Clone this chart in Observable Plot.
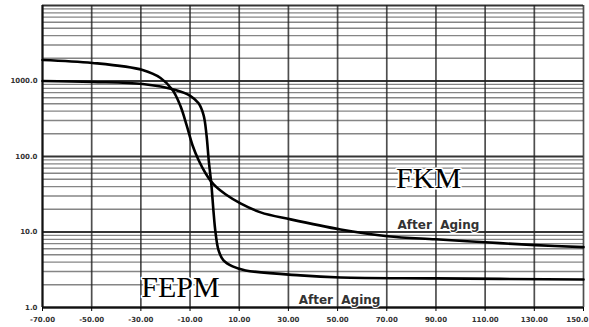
<!DOCTYPE html>
<html><head><meta charset="utf-8">
<script src="https://cdn.jsdelivr.net/npm/d3@7"></script>
<script src="https://cdn.jsdelivr.net/npm/@observablehq/plot@0.6"></script>
<style>body{margin:0;background:#fff}</style>
</head><body><div id="chart"></div>
<script>
const xTicks = [-70,-50,-30,-10,10,30,50,70,90,110,130,150];
const xTickLabels = ["-70.00","-50.00","-30.00","-10.00","10.00","30.00","50.00","70.00","90.00","110.00","130.00","150.0"];
const yTicks = [1,10,100,1000];
const yTickLabels = ["1.0","10.0","100.0","1000.0"];

// FKM curve (temperature, value)
const fkmX = [-70,-49.7,-29.3,-22,-17.1,-13.9,-11.4,-9.0,-6.5,-3.7,-0.5,4.4,10.5,18.7,30.9,51.2,70.3,89.8,110.2,130.5,150];
const fkmY = [1900,1735,1400,1097,760,466,261,141,89,60,43,31.6,24,18.2,14.7,10.8,8.8,8.0,7.3,6.7,6.3];
// FEPM curve
const fepmX = [-70,-49.7,-29.3,-15.9,-9.8,-6.6,-4.5,-3.3,-2.4,-1.3,-0.5,0.35,1.6,3.6,7.3,12.6,34.9,51.2,89.8,150];
const fepmY = [1000,970,912,760,632,510,354,192,89,41.6,19.4,9.9,5.7,4.2,3.5,3.1,2.66,2.5,2.43,2.35];

const labelText = ["FKM","FEPM"];
const labelX = [87,-13.9];
const labelY = [51.6,1.84];
const noteText = ["After  Aging","After  Aging"];
const noteX = [91,50.8];
const noteY = [12.3,1.24];

const fkm = fkmX.map((x,i)=>({x, y: fkmY[i]}));
const fepm = fepmX.map((x,i)=>({x, y: fepmY[i]}));
const labels = labelText.map((t,i)=>({t, x: labelX[i], y: labelY[i]}));
const notes = noteText.map((t,i)=>({t, x: noteX[i], y: noteY[i]}));
const xLab = xTicks.map((x,i)=>({x, t: xTickLabels[i]}));
const lastIdx = xTicks.length - 1;

const decades = [1,10,100,1000];
const minorGrid = decades.flatMap(d => d3.range(2,10).map(m => d*m));
const majorGrid = decades.concat([10000]);

const tickStyle = {fontSize: 7, fontWeight: "bold", fill: "#333"};

const chart = Plot.plot({
  width: 589, height: 327,
  marginLeft: 42, marginRight: 6, marginTop: 5, marginBottom: 20,
  x: {domain: [-70,150]},
  y: {type: "log", domain: [1,10000]},
  style: {background: "white", fontFamily: "DejaVu Sans"},
  marks: [
    Plot.ruleY(minorGrid, {stroke: "#333", strokeOpacity: 0.6, strokeWidth: 1.3}),
    Plot.ruleY(majorGrid, {stroke: "#111", strokeOpacity: 0.85, strokeWidth: 1.8}),
    Plot.ruleX(xTicks, {stroke: "#222", strokeOpacity: 0.8, strokeWidth: 1.7}),
    Plot.ruleX([-70], {stroke: "#111", strokeWidth: 2}),
    Plot.ruleY([1], {stroke: "#111", strokeWidth: 2}),
    Plot.axisX({ticks: xTicks, tickFormat: () => "", tickSize: 4, label: null}),
    Plot.text(xLab.slice(0, lastIdx), {x: "x", text: "t", frameAnchor: "bottom", dy: 14, ...tickStyle}),
    Plot.text(xLab.slice(lastIdx), {x: "x", text: "t", frameAnchor: "bottom", dy: 14, textAnchor: "end", dx: 5, ...tickStyle}),
    Plot.axisY({ticks: yTicks, tickFormat: d => yTickLabels[yTicks.indexOf(d)], tickSize: 0, tickPadding: 5, ...tickStyle, label: null}),
    Plot.line(fkm, {x: "x", y: "y", curve: "catmull-rom", stroke: "#000", strokeWidth: 2.6}),
    Plot.line(fepm, {x: "x", y: "y", curve: "catmull-rom", stroke: "#000", strokeWidth: 2.6}),
    Plot.text(labels, {x: "x", y: "y", text: "t", fontFamily: "Liberation Serif", fontSize: 30, fill: "#000", stroke: "white", strokeWidth: 3}),
    Plot.text(notes, {x: "x", y: "y", text: "t", fontFamily: "DejaVu Sans", fontWeight: "bold", fontSize: 12, fill: "#333", stroke: "white", strokeWidth: 2})
  ]
});
document.getElementById("chart").appendChild(chart);
</script>
</body></html>
